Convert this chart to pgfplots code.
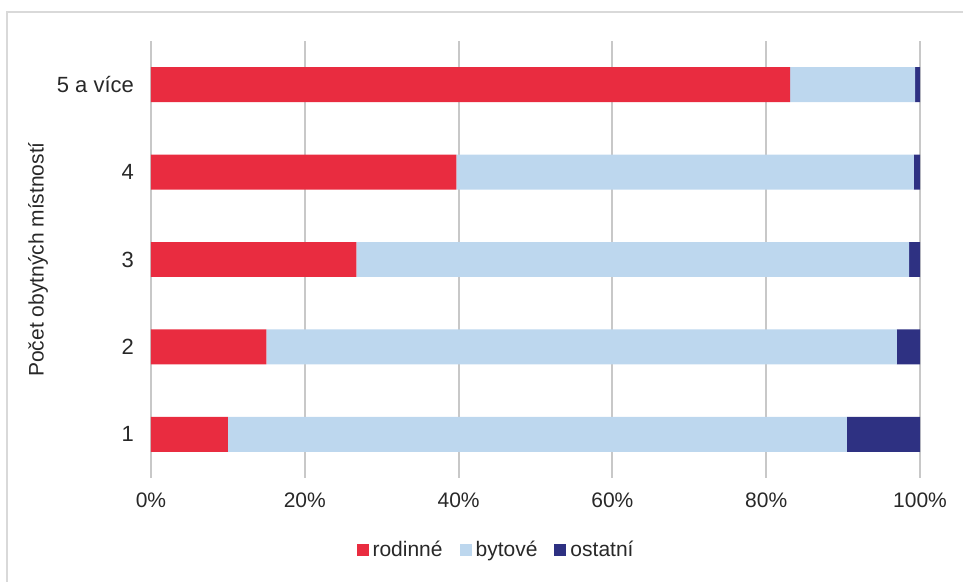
\documentclass[border=0pt]{standalone}
\usepackage{pgfplots}
\pgfplotsset{compat=1.18}
\usepackage{fontspec}
\setmainfont{Liberation Sans}
\definecolor{cRod}{RGB}{233,44,64}
\definecolor{cByt}{RGB}{189,215,238}
\definecolor{cOst}{RGB}{46,49,130}
\definecolor{cGrid}{RGB}{200,200,200}
\definecolor{cTxt}{RGB}{40,40,40}
\begin{document}
\begin{tikzpicture}
\useasboundingbox (-75.5pt,-52pt) rectangle (406pt,239pt);
\draw[color=cGrid!70, line width=0.8pt] (-72pt,-60pt) -- (-72pt,233pt) -- (420pt,233pt);
\begin{axis}[
  at={(0pt,0pt)}, anchor=south west,
  scale only axis, width=384.5pt, height=218.5pt,
  xbar stacked, bar width=0.4,
  xmin=0, xmax=100, ymin=0.5, ymax=5.5,
  xtick={0,20,40,60,80,100},
  xticklabels={0\%,20\%,40\%,60\%,80\%,100\%},
  ytick={1,2,3,4,5},
  yticklabels={1,2,3,4,5 a více},
  xmajorgrids, major grid style={color=cGrid, line width=1pt},
  axis line style={draw=none},
  major tick length=0pt,
  tick label style={text=cTxt},
  xticklabel style={yshift=-4pt, font=\fontsize{10.5}{12}\selectfont},
  yticklabel style={xshift=-5pt, font=\fontsize{11}{13}\selectfont},
  ylabel={Počet obytných místností},
  every axis y label/.style={at={(axis description cs:0,0.5)}, xshift=-56.5pt, rotate=90, anchor=center, font=\fontsize{10.5}{12}\selectfont, text=cTxt},
  legend style={at={(axis description cs:0.45,-0.165)}, anchor=center, draw=none, legend columns=-1, font=\fontsize{10.5}{12}\selectfont, text=cTxt, /tikz/every even column/.append style={column sep=6.5pt}},
  legend image code/.code={\fill[#1] (0pt,-3pt) rectangle (6pt,3pt);},
]
\addplot[fill=cRod, draw=none] coordinates {(10.0,1) (15.0,2) (26.7,3) (39.7,4) (83.1,5)};
\addplot[fill=cByt, draw=none] coordinates {(80.5,1) (82.0,2) (71.9,3) (59.5,4) (16.25,5)};
\addplot[fill=cOst, draw=none] coordinates {(9.5,1) (3.0,2) (1.4,3) (0.8,4) (0.65,5)};
\legend{rodinné,bytové,ostatní}
\end{axis}
\end{tikzpicture}
\end{document}
